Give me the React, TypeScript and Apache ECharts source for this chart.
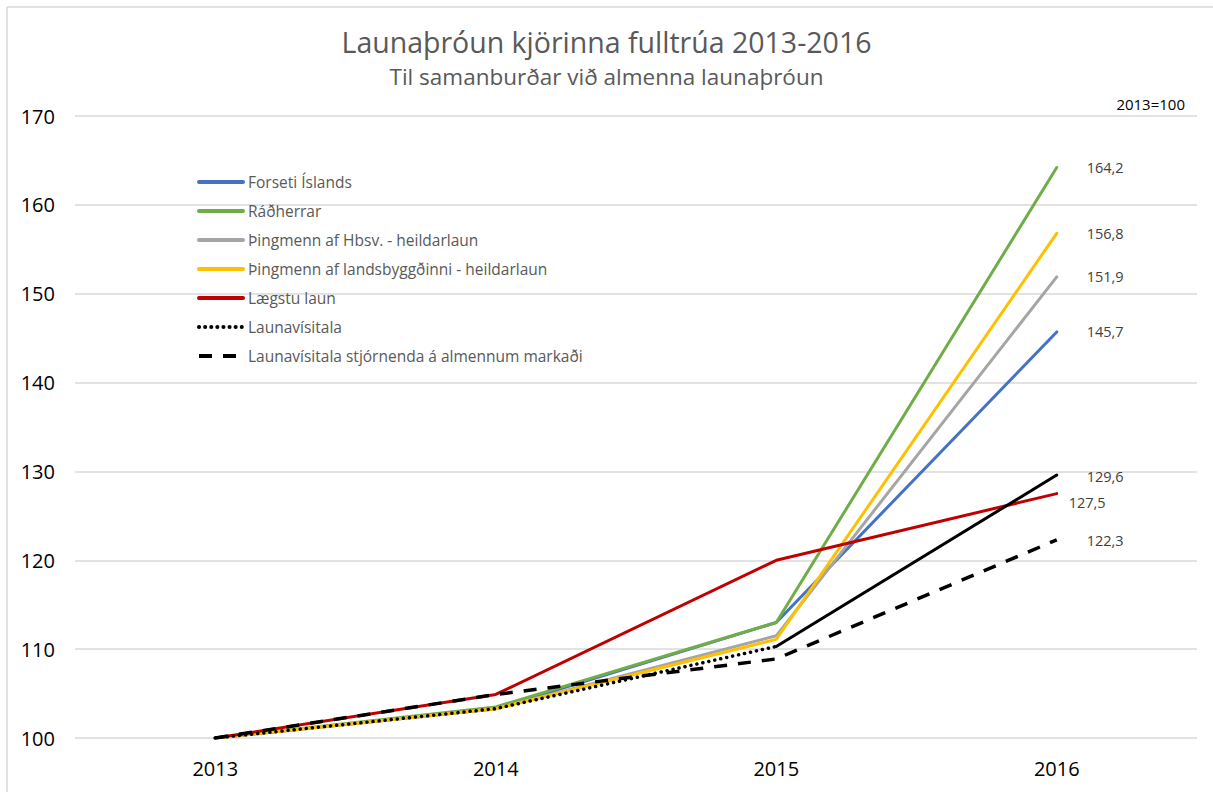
import React, { useEffect, useRef } from "react";
import * as echarts from "echarts";

const years = ["2013", "2014", "2015", "2016"];
const forseti = [100, 103.3, 113.0, 145.7];
const radherrar = [100, 103.5, 113.0, 164.2];
const thingmennHbsv = [100, 103.3, 111.5, 151.9];
const thingmennLands = [100, 103.3, 111.1, 156.8];
const laegstuLaun = [100, 104.9, 120.0, 127.5];
const launavisitala = [100, 103.3, 110.3, 129.6];
const stjornendur = [100, 104.9, 108.9, 122.3];
const yTicks = [100, 110, 120, 130, 140, 150, 160, 170];

const FONT = "'Open Sans', 'Noto Sans', sans-serif";

const fmt = (p: any) => {
  const v = Array.isArray(p.value) ? p.value[p.value.length - 1] : p.value;
  return Number(v).toFixed(1).replace(".", ",");
};

function endLabel(offset: [number, number] = [0, 0]) {
  return {
    show: true,
    formatter: fmt,
    distance: 30,
    offset,
    color: "#404040",
    fontSize: 14.5,
    fontFamily: FONT,
  };
}

export default function App() {
  const ref = useRef<HTMLDivElement>(null);
  useEffect(() => {
    if (!ref.current) return;
    const chart = echarts.init(ref.current, undefined, { renderer: "svg" });
    const lineSeries = (name: string, data: any[], color: string, extra: any = {}) => ({
      name,
      type: "line",
      data,
      symbol: "none",
      lineStyle: { color, width: 3, cap: "round", ...(extra.lineStyle || {}) },
      itemStyle: { color },
      endLabel: extra.endLabel,
      z: extra.z ?? 2,
      connectNulls: false,
    });
    const dottedPart = launavisitala.map((v, i) => (i <= 2 ? v : null));
    const solidPart = launavisitala.map((v, i) => (i >= 2 ? v : null));
    chart.setOption({
      animation: false,
      backgroundColor: "#ffffff",
      textStyle: { fontFamily: FONT },
      title: {
        text: "Launaþróun kjörinna fulltrúa 2013-2016",
        subtext: "Til samanburðar við almenna launaþróun",
        left: "center",
        top: 22,
        itemGap: 9,
        textStyle: { fontSize: 28.5, fontWeight: "normal", color: "#595959", fontFamily: FONT },
        subtextStyle: { fontSize: 22.5, color: "#595959", fontFamily: FONT },
      },
      legend: {
        orient: "vertical",
        left: 192,
        top: 169,
        itemGap: 13,
        itemWidth: 44,
        itemHeight: 20,
        itemStyle: { opacity: 0 },
        lineStyle: { width: 4 },
        data: [
          "Forseti Íslands",
          "Ráðherrar",
          "Þingmenn af Hbsv. - heildarlaun",
          "Þingmenn af landsbyggðinni - heildarlaun",
          "Lægstu laun",
          "Launavísitala",
          "Launavísitala stjórnenda á almennum markaði",
        ],
        textStyle: { fontSize: 15.5, color: "#595959", fontFamily: FONT },
      },
      grid: { left: 75, right: 16, top: 116, bottom: 54 },
      xAxis: {
        type: "category",
        data: years,
        boundaryGap: true,
        axisLine: { show: false },
        axisTick: { show: false },
        axisLabel: { fontSize: 20, color: "#000000", margin: 20, fontFamily: FONT },
      },
      yAxis: {
        type: "value",
        min: 100,
        max: 170,
        interval: 10,
        axisLabel: {
          fontSize: 20,
          color: "#000000",
          margin: 20,
          fontFamily: FONT,
          formatter: (v: number) => (yTicks.includes(v) ? String(v) : ""),
        },
        splitLine: { lineStyle: { color: "#d9d9d9", width: 1.5 } },
        axisLine: { show: false },
        axisTick: { show: false },
      },
      graphic: [
        { type: "line", shape: { x1: 7, y1: 7, x2: 1213, y2: 7 }, style: { stroke: "#d9d9d9", lineWidth: 1.5 } },
        { type: "line", shape: { x1: 7, y1: 7, x2: 7, y2: 792 }, style: { stroke: "#d9d9d9", lineWidth: 1.5 } },
        {
          type: "text",
          right: 28,
          top: 96,
          style: { text: "2013=100", fontSize: 15, fill: "#000000", fontFamily: FONT },
        },
      ],
      series: [
        lineSeries("Forseti Íslands", forseti, "#4472C4", { endLabel: endLabel() }),
        lineSeries("Ráðherrar", radherrar, "#70AD47", { endLabel: endLabel() }),
        lineSeries("Þingmenn af Hbsv. - heildarlaun", thingmennHbsv, "#A5A5A5", { endLabel: endLabel() }),
        lineSeries("Þingmenn af landsbyggðinni - heildarlaun", thingmennLands, "#FFC000", { endLabel: endLabel() }),
        lineSeries("Lægstu laun", laegstuLaun, "#C00000", { endLabel: endLabel([-18, 9]) }),
        lineSeries("Launavísitala", dottedPart, "#000000", {
          lineStyle: { type: [0.1, 6], width: 3.5, cap: "round" },
          z: 3,
        }),
        lineSeries("Launavísitala 2015-2016", solidPart, "#000000", { z: 3, endLabel: endLabel([0, 2]) }),
        lineSeries("Launavísitala stjórnenda á almennum markaði", stjornendur, "#000000", {
          lineStyle: { type: [13, 11], width: 3.5, cap: "butt" },
          z: 3,
          endLabel: endLabel([0, 1]),
        }),
      ],
    });
    return () => chart.dispose();
  }, []);
  return (
    <div
      ref={ref}
      style={{ position: "absolute", left: 0, top: 0, width: 1213, height: 792 }}
    />
  );
}
